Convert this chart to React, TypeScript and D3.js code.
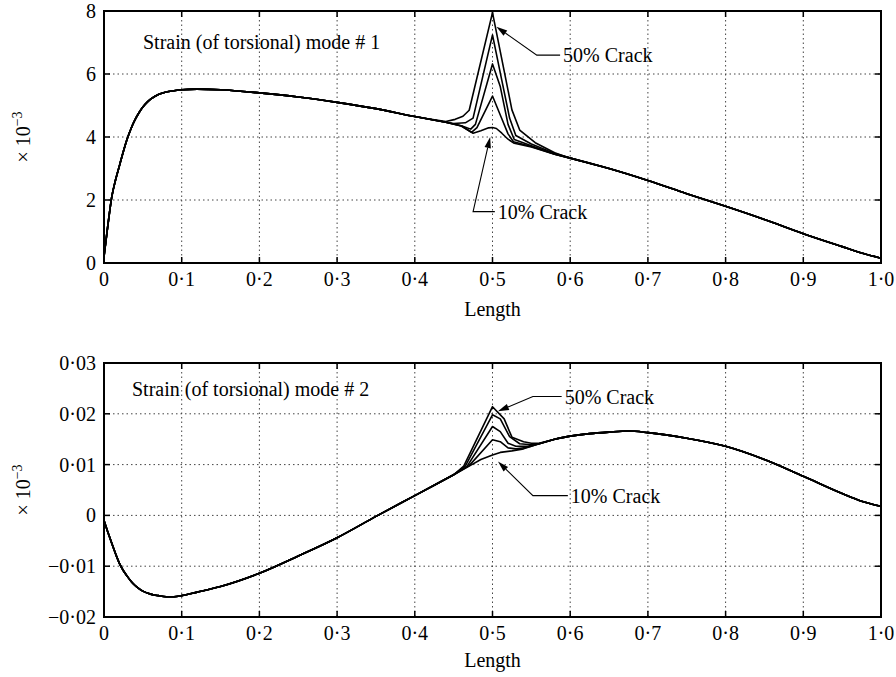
import React from "react";
import * as d3 from "d3";

// ---------- DATA ----------
const crackLevels = ["10%", "20%", "30%", "40%", "50%"];

// Mode 1 (units x10^-3) baseline, away from the crack
const mode1Base: [number, number][] = [
  [0, 0.2], [0.005, 1.2], [0.01, 2.1], [0.015, 2.65], [0.02, 3.1], [0.025, 3.55], [0.03, 3.95],
  [0.035, 4.28], [0.04, 4.55], [0.045, 4.77], [0.05, 4.95], [0.055, 5.09], [0.06, 5.2],
  [0.07, 5.35], [0.08, 5.43], [0.09, 5.47], [0.1, 5.5], [0.12, 5.52],
  [0.15, 5.5], [0.2, 5.4], [0.25, 5.27], [0.3, 5.1], [0.35, 4.9], [0.4, 4.65],
  [0.6, 3.33], [0.65, 3.0], [0.7, 2.62], [0.75, 2.2], [0.8, 1.8], [0.85, 1.38],
  [0.9, 0.93], [0.95, 0.52], [0.975, 0.32], [1.0, 0.15],
];
const mode1Crack10: [number, number][] = [
  [0.44, 4.47], [0.46, 4.35], [0.475, 4.12], [0.485, 4.2], [0.495, 4.29], [0.5, 4.3], [0.505, 4.27],
  [0.512, 4.12], [0.52, 3.93], [0.528, 3.8], [0.55, 3.68], [0.58, 3.45],
];
const mode1Crack20: [number, number][] = [
  [0.44, 4.47], [0.46, 4.35], [0.473, 4.15], [0.48, 4.3], [0.5, 5.3], [0.51, 4.7],
  [0.52, 4.1], [0.527, 3.85], [0.55, 3.7], [0.58, 3.45],
];
const mode1Crack30: [number, number][] = [
  [0.44, 4.47], [0.46, 4.36], [0.472, 4.25], [0.478, 4.4], [0.5, 6.32], [0.51, 5.6],
  [0.52, 4.4], [0.528, 3.92], [0.55, 3.72], [0.58, 3.46],
];
const mode1Crack40: [number, number][] = [
  [0.44, 4.47], [0.45, 4.43], [0.465, 4.45], [0.475, 4.6], [0.5, 7.24], [0.512, 5.8],
  [0.522, 4.6], [0.53, 4.05], [0.55, 3.78], [0.58, 3.48],
];
const mode1Crack50: [number, number][] = [
  [0.44, 4.49], [0.452, 4.56], [0.462, 4.66], [0.47, 4.85], [0.5, 7.95], [0.515, 6.1], [0.525, 4.86],
  [0.535, 4.22], [0.555, 3.82], [0.58, 3.5],
];

// Mode 2 baseline
const mode2Base: [number, number][] = [
  [0, -0.001], [0.005, -0.0033], [0.01, -0.0055], [0.015, -0.0076], [0.02, -0.0095],
  [0.025, -0.0109], [0.03, -0.012], [0.035, -0.013], [0.04, -0.0138], [0.045, -0.0144],
  [0.05, -0.0149], [0.06, -0.0155], [0.07, -0.0158], [0.08, -0.016], [0.09, -0.016],
  [0.1, -0.0158], [0.12, -0.0151], [0.15, -0.014], [0.2, -0.0114], [0.25, -0.008],
  [0.3, -0.0044], [0.35, -0.0002], [0.4, 0.0039], [0.6, 0.0156], [0.625, 0.0161],
  [0.65, 0.0164], [0.675, 0.0166], [0.7, 0.0163], [0.75, 0.0152], [0.8, 0.0136],
  [0.85, 0.011], [0.9, 0.0077], [0.95, 0.0043], [0.975, 0.0028], [1.0, 0.0018],
];
const mode2Crack10: [number, number][] = [
  [0.45, 0.0080], [0.47, 0.0097], [0.485, 0.011], [0.5, 0.0119], [0.51, 0.0124],
  [0.525, 0.0127], [0.54, 0.0131], [0.56, 0.0141], [0.58, 0.015],
];
const mode2Crack20: [number, number][] = [
  [0.45, 0.0080], [0.47, 0.0098], [0.5, 0.0149], [0.51, 0.0145], [0.52, 0.0133],
  [0.53, 0.0131], [0.545, 0.0134], [0.56, 0.0141], [0.58, 0.015],
];
const mode2Crack30: [number, number][] = [
  [0.45, 0.0080], [0.467, 0.0096], [0.5, 0.0175], [0.51, 0.0165], [0.52, 0.0142],
  [0.53, 0.0136], [0.545, 0.0136], [0.56, 0.0141], [0.58, 0.015],
];
const mode2Crack40: [number, number][] = [
  [0.45, 0.0080], [0.465, 0.0097], [0.5, 0.0198], [0.51, 0.019], [0.522, 0.0155],
  [0.535, 0.0141], [0.55, 0.0139], [0.56, 0.0141], [0.58, 0.015],
];
const mode2Crack50: [number, number][] = [
  [0.45, 0.0080], [0.463, 0.0097], [0.5, 0.0214], [0.515, 0.019], [0.525, 0.0154],
  [0.54, 0.0145], [0.55, 0.0142], [0.56, 0.0142], [0.58, 0.015],
];

const xTicks = [0, 0.1, 0.2, 0.3, 0.4, 0.5, 0.6, 0.7, 0.8, 0.9, 1.0];
const mode1YTicks = [0, 2, 4, 6, 8];
const mode2YTicks = [-0.02, -0.01, 0, 0.01, 0.02, 0.03];

// ---------- HELPERS ----------
type Pt = [number, number];
function splitSeries(base: Pt[], crack: Pt[]) {
  const lo = crack[0][0];
  const hi = crack[crack.length - 1][0];
  const leftPart = base.filter((p) => p[0] < lo).concat([crack[0]]);
  const rightPart = [crack[crack.length - 1]].concat(base.filter((p) => p[0] > hi));
  return { leftPart, crack, rightPart };
}

const fmtX = (v: number) => (v === 0 ? "0" : d3.format(".1f")(v).replace(".", "\u00B7"));
const fmtY2 = (v: number) =>
  v === 0 ? "0" : (v < 0 ? "\u2212" : "") + d3.format(".2f")(Math.abs(v)).replace(".", "\u00B7");

const FONT = "'Liberation Serif', 'Times New Roman', serif";
const FS = 20;

type Ann = { tip: Pt; elbow: Pt; end: Pt; label: string };

function Arrow({ a, x, y }: { a: Ann; x: any; y: any }) {
  const tx = x(a.tip[0]), ty = y(a.tip[1]);
  const ex = x(a.elbow[0]), ey = y(a.elbow[1]);
  const nx = x(a.end[0]), ny = y(a.end[1]);
  const dx = tx - ex, dy = ty - ey;
  const len = Math.hypot(dx, dy);
  const ux = dx / len, uy = dy / len;
  const L = 11, W = 3.2;
  const bx = tx - ux * L, by = ty - uy * L;
  const head = `${tx},${ty} ${bx - uy * W},${by + ux * W} ${bx + uy * W},${by - ux * W}`;
  return (
    <g>
      <polyline points={`${bx},${by} ${ex},${ey} ${nx},${ny}`} fill="none" stroke="#000" strokeWidth={1.1} />
      <polygon points={head} fill="#000" />
      <text x={nx + 3} y={ny} dy="0.35em" fontFamily={FONT} fontSize={FS}>{a.label}</text>
    </g>
  );
}

function Panel(props: {
  top: number; bottom: number; yDomain: [number, number]; yTicks: number[];
  fmt: (v: number) => string; base: Pt[]; cracks: Pt[][]; title: string;
  anns: Ann[]; xLabelY: number; titleY: number; titleX: number;
}) {
  const { top, bottom, yDomain, yTicks, fmt, base, cracks, title, anns, xLabelY, titleY, titleX } = props;
  const left = 104, right = 881;
  const x = d3.scaleLinear().domain([0, 1]).range([left, right]);
  const y = d3.scaleLinear().domain(yDomain).range([bottom, top]);
  const smooth = d3.line<Pt>().x((d) => x(d[0])).y((d) => y(d[1])).curve(d3.curveMonotoneX);
  const straight = d3.line<Pt>().x((d) => x(d[0])).y((d) => y(d[1])).curve(d3.curveLinear);
  const tickLen = 6;
  const innerX = xTicks.filter((t) => t > 0 && t < 1);
  const innerY = yTicks.filter((t) => t > yDomain[0] && t < yDomain[1]);
  return (
    <g>
      {innerX.map((t) => (
        <line key={"gx" + t} x1={x(t)} x2={x(t)} y1={top} y2={bottom} stroke="#444" strokeWidth={1} strokeDasharray="1.5,3" />
      ))}
      {innerY.map((t) => (
        <line key={"gy" + t} x1={left} x2={right} y1={y(t)} y2={y(t)} stroke="#444" strokeWidth={1} strokeDasharray="1.5,3" />
      ))}
      {xTicks.map((t) => (
        <g key={"tx" + t}>
          <line x1={x(t)} x2={x(t)} y1={bottom} y2={bottom - tickLen} stroke="#000" strokeWidth={1.5} />
          <line x1={x(t)} x2={x(t)} y1={top} y2={top + tickLen} stroke="#000" strokeWidth={1.5} />
          <text x={x(t)} y={bottom + 16} dy="0.35em" textAnchor="middle" fontFamily={FONT} fontSize={FS}>{fmtX(t)}</text>
        </g>
      ))}
      {yTicks.map((t) => (
        <g key={"ty" + t}>
          <line x1={left} x2={left + tickLen} y1={y(t)} y2={y(t)} stroke="#000" strokeWidth={1.5} />
          <line x1={right} x2={right - tickLen} y1={y(t)} y2={y(t)} stroke="#000" strokeWidth={1.5} />
          <text x={left - 8} y={y(t)} dy="0.35em" textAnchor="end" fontFamily={FONT} fontSize={FS}>{fmt(t)}</text>
        </g>
      ))}
      {cracks.map((c, i) => {
        const s = splitSeries(base, c);
        const d = (smooth(s.leftPart) || "") + (straight(s.crack) || "") + (smooth(s.rightPart) || "");
        return <path key={"s" + i} d={d} fill="none" stroke="#000" strokeWidth={1.6} strokeLinejoin="round" />;
      })}
      <rect x={left} y={top} width={right - left} height={bottom - top} fill="none" stroke="#000" strokeWidth={2} />
      <text x={titleX} y={titleY} dy="0.35em" fontFamily={FONT} fontSize={FS}>{title}</text>
      {anns.map((a, i) => <Arrow key={"a" + i} a={a} x={x} y={y} />)}
      <text x={(left + right) / 2} y={xLabelY} dy="0.35em" textAnchor="middle" fontFamily={FONT} fontSize={FS}>Length</text>
      <text transform={`translate(23,${(top + bottom) / 2}) rotate(-90)`} textAnchor="middle" dy="0.35em" fontFamily={FONT} fontSize={FS}>
        {"\u00D7 10"}<tspan dy="-0.6em" fontSize={14}>{"\u22123"}</tspan>
      </text>
    </g>
  );
}

export default function App() {
  const cracks1 = [mode1Crack10, mode1Crack20, mode1Crack30, mode1Crack40, mode1Crack50];
  const cracks2 = [mode2Crack10, mode2Crack20, mode2Crack30, mode2Crack40, mode2Crack50];
  const anns1: Ann[] = [
    { tip: [0.505, 7.5], elbow: [0.557, 6.6], end: [0.587, 6.6], label: crackLevels[4] + " Crack" },
    { tip: [0.497, 4.0], elbow: [0.475, 1.63], end: [0.503, 1.63], label: crackLevels[0] + " Crack" },
  ];
  const anns2: Ann[] = [
    { tip: [0.507, 0.0205], elbow: [0.552, 0.0234], end: [0.589, 0.0234], label: crackLevels[4] + " Crack" },
    { tip: [0.507, 0.0106], elbow: [0.552, 0.0039], end: [0.597, 0.0039], label: crackLevels[0] + " Crack" },
  ];
  return (
    <svg width={896} height={677} style={{ position: "absolute", left: 0, top: 0, background: "#fff" }}>
      <rect width={896} height={677} fill="#fff" />
      <Panel top={11} bottom={263} yDomain={[0, 8]} yTicks={mode1YTicks} fmt={(v) => String(v)}
        base={mode1Base} cracks={cracks1} title="Strain (of torsional) mode # 1" anns={anns1} xLabelY={309} titleY={42} titleX={143} />
      <Panel top={363} bottom={617} yDomain={[-0.02, 0.03]} yTicks={mode2YTicks} fmt={fmtY2}
        base={mode2Base} cracks={cracks2} title="Strain (of torsional) mode # 2" anns={anns2} xLabelY={660} titleY={389} titleX={132} />
    </svg>
  );
}
